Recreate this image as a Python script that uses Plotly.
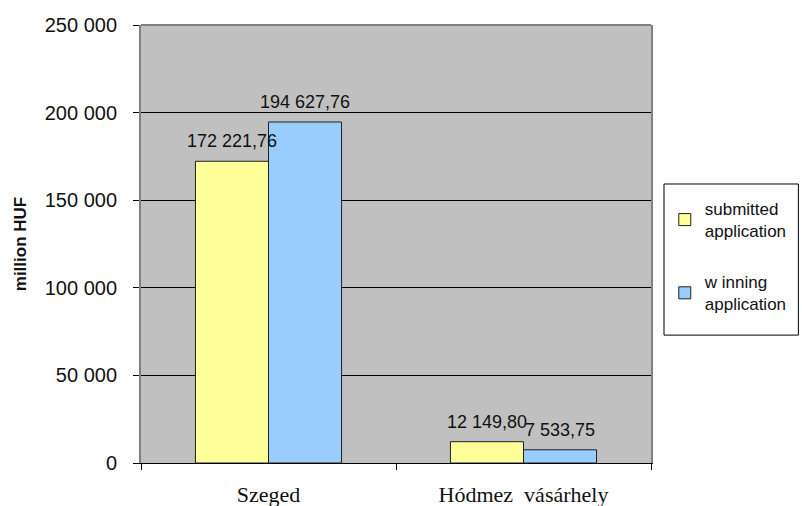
import plotly.graph_objects as go

# Application amounts by town, million HUF
towns = ["Szeged", "Hódmez\u00a0 vásárhely"]
series_names = ["submitted<br>application", "w inning<br>application"]
submitted = [172221.76, 12149.80]
winning = [194627.76, 7533.75]
y_ticks = [0, 50000, 100000, 150000, 200000, 250000]

colors = ["#FFFF99", "#99CCFF"]
series = [submitted, winning]


def hu_number(v):
    return f"{v:,.2f}".replace(",", " ").replace(".", ",")


fig = go.Figure()
for i, (name, vals, col) in enumerate(zip(series_names, series, colors)):
    fig.add_trace(go.Bar(
        x=towns, y=vals, name=name, legendgroup=f"g{i}",
        marker=dict(color=col, line=dict(color="#202020", width=1)),
    ))

# Value labels above each bar
offsets = [-36.5, 36.5]
for vals, dx in zip(series, offsets):
    for town, v in zip(towns, vals):
        fig.add_annotation(
            x=town, y=v, text=hu_number(v), showarrow=False,
            xshift=dx, yshift=8, yanchor="bottom",
            font=dict(family="Liberation Sans, Arial", size=18, color="#111"),
        )

# Top edge of the plot frame
fig.add_shape(type="line", xref="paper", yref="paper", x0=0, x1=1, y0=1, y1=1,
              line=dict(color="#808080", width=2), layer="above")

# Legend frame
fig.add_shape(type="rect", xref="paper", yref="paper",
              x0=1.0255, x1=1.289, y0=0.292, y1=0.637,
              line=dict(color="black", width=1), fillcolor="white", layer="below")

fig.update_layout(
    width=802, height=506,
    margin=dict(l=141, r=151, t=25, b=43, autoexpand=False),
    paper_bgcolor="white", plot_bgcolor="#C0C0C0",
    barmode="group", bargap=0.427, bargroupgap=0,
    separators=", ",
    showlegend=True,
    legend=dict(
        x=1.027, y=0.621, xanchor="left", yanchor="top",
        borderwidth=0, bgcolor="rgba(0,0,0,0)",
        font=dict(family="Liberation Sans, Arial", size=17, color="#111"),
        tracegroupgap=26,
    ),
    xaxis=dict(
        automargin=False,
        showline=True, linecolor="black", linewidth=1,
        ticks="outside", tickson="boundaries", ticklen=6, tickcolor="black",
        showgrid=False,
        tickfont=dict(family="Liberation Serif, Times New Roman", size=22, color="#111"),
        ticklabelstandoff=12,
    ),
    yaxis=dict(
        automargin=False,
        range=[0, 250000], tickvals=y_ticks, tickformat=",d",
        showline=True, linecolor="#808080", linewidth=2, mirror=True,
        ticks="outside", ticklen=6, tickcolor="black",
        showgrid=True, gridcolor="black", gridwidth=1,
        zeroline=False,
        tickfont=dict(family="Liberation Sans, Arial", size=20, color="#111"),
        ticklabelstandoff=12,
        title=dict(text="<b>million HUF</b>", standoff=14,
                   font=dict(family="Liberation Sans, Arial", size=17, color="#111")),
    ),
)

fig.write_html("out.html")
